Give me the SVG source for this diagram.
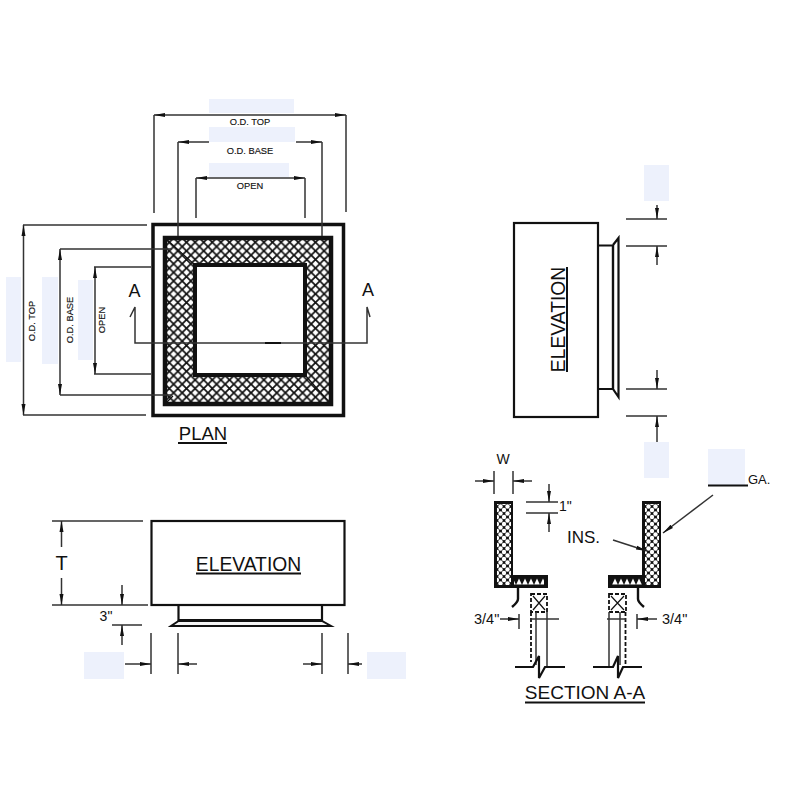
<svg xmlns="http://www.w3.org/2000/svg" width="800" height="800" viewBox="0 0 800 800">
<style>
text{font-family:"Liberation Sans",Arial,sans-serif;fill:#111}
.m{text-anchor:middle}
.d{fill:none;stroke:#333;stroke-width:1.5}
.da{fill:none;stroke:#333;stroke-width:1.5;marker-end:url(#ah)}
.o{fill:none;stroke:#111;stroke-width:2.200}
.b{fill:#edf1fc}
.u{stroke:#111;stroke-width:2}
.s{font-size:9.300px;stroke:#111;stroke-width:.15}
.dash{fill:none;stroke:#111;stroke-width:1.8;stroke-dasharray:4 2}
</style>
<defs>
<marker id="ah" markerWidth="13" markerHeight="8" refX="11" refY="4" orient="auto" markerUnits="userSpaceOnUse"><path d="M0 2L11 4L0 6Z" fill="#111"/></marker>
<pattern id="hatch" width="8.600" height="8.600" patternUnits="userSpaceOnUse" x="165" y="238"><rect width="8.600" height="8.600" fill="#fff"/><path d="M0 0L8.600 8.600M8.600 0L0 8.600" stroke="#111" stroke-width="1.700"/></pattern>
<pattern id="dots" width="7" height="7" patternUnits="userSpaceOnUse" x="497" y="503"><rect width="7" height="7" fill="#111"/><circle cx="3.500" cy="3.500" r="2.200" fill="#fff"/><circle cx="0" cy="0" r="2.200" fill="#fff"/><circle cx="7" cy="0" r="2.200" fill="#fff"/><circle cx="0" cy="7" r="2.200" fill="#fff"/><circle cx="7" cy="7" r="2.200" fill="#fff"/></pattern>
<pattern id="dots2" width="7" height="7" patternUnits="userSpaceOnUse" x="645" y="503"><rect width="7" height="7" fill="#111"/><circle cx="3.500" cy="3.500" r="2.200" fill="#fff"/><circle cx="0" cy="0" r="2.200" fill="#fff"/><circle cx="7" cy="0" r="2.200" fill="#fff"/><circle cx="0" cy="7" r="2.200" fill="#fff"/><circle cx="7" cy="7" r="2.200" fill="#fff"/></pattern>
<pattern id="tri" width="6" height="7" patternUnits="userSpaceOnUse" y="578"><rect width="6" height="7" fill="#111"/><path d="M3 0.500L5.800 6.500H0.200Z" fill="#fff"/></pattern>
</defs>

<g id="masks">
<rect class="b" x="209" y="99" width="85" height="14"/><rect class="b" x="209" y="127" width="86" height="15"/><rect class="b" x="209" y="163" width="80" height="14"/>
<rect class="b" x="6" y="277" width="15" height="85"/><rect class="b" x="42" y="277" width="16" height="87"/><rect class="b" x="78" y="280" width="15" height="80"/>
<rect class="b" x="644" y="165" width="25" height="36"/><rect class="b" x="644" y="442" width="25" height="36"/>
<rect class="b" x="84" y="652" width="40" height="27"/><rect class="b" x="367" y="652" width="39" height="27"/><rect class="b" x="708" y="449" width="37" height="36"/>
</g>

<g id="plan">
<rect x="153" y="224.500" width="190.500" height="191" fill="#fff" stroke="#111" stroke-width="3.500"/>
<path fill-rule="evenodd" d="M165 238H331V404H165ZM195 265V375H305V265Z" fill="url(#hatch)"/>
<rect x="165" y="238" width="166" height="166" fill="none" stroke="#111" stroke-width="4.500"/>
<rect x="195" y="265" width="110" height="110" fill="#fff" stroke="#111" stroke-width="4"/>
<path d="M167 240L195 265M329 402L305 375M167 402L173 396" stroke="#111" stroke-width="1.200"/>
<text class="m" x="203" y="440" font-size="18.500">PLAN</text><path class="u" d="M178 443H227"/>
<text class="m" x="134.500" y="297" font-size="18">A</text><text class="m" x="368" y="296" font-size="18">A</text>
</g>

<g id="elevation-bottom">
<rect x="151.500" y="521" width="193" height="84" fill="#fff" stroke="#111" stroke-width="2.200"/>
<path class="o" d="M178.500 605V620H322V605"/>
<path d="M178.500 621L171 626H331L322 621Z" fill="#f4f4f4" stroke="#111" stroke-width="2"/>
<text class="m" x="248.500" y="571" font-size="19.300">ELEVATION</text><path class="u" d="M196 573.500H301"/>
</g>

<g id="elevation-right">
<rect x="514" y="223" width="84" height="194" fill="#fff" stroke="#111" stroke-width="2.200"/>
<path class="o" d="M598 245.500H613V389H598"/>
<path class="o" d="M613 245L618.500 238V397L613 389V245"/>
<text class="m" transform="translate(565 319.500) rotate(-90)" font-size="19.300">ELEVATION</text><path class="u" d="M567 267V372"/>
</g>

<g id="section-a-a">
<path d="M494 501H513V575H548V588H494Z" fill="#111"/>
<rect x="497" y="504" width="14" height="81" fill="url(#dots)"/>
<rect x="514" y="578" width="30" height="7" fill="url(#tri)"/>
<path d="M642 501H661V588H608V575H642Z" fill="#111"/>
<rect x="645" y="504" width="14" height="81" fill="url(#dots2)"/>
<rect x="612" y="578" width="30" height="7" fill="url(#tri)"/>
<path d="M518 588V599Q518 602 512 607M638 588V599Q638 602 644 607" fill="none" stroke="#111" stroke-width="2.400"/>
<rect class="dash" x="531" y="594" width="16" height="18"/><path d="M533 596L545 610M545 596L533 610" stroke="#111" stroke-width="1.200"/>
<rect class="dash" x="609" y="594" width="17" height="18"/><path d="M611 596L624 610M624 596L611 610" stroke="#111" stroke-width="1.200"/>
<path class="dash" d="M531 612V662M625.500 612V665"/>
<path d="M536 612V665M547 612V667M609 612V667M620 612V665" class="d"/>
<path class="o" d="M515 667H533L539 656V678L545 667H565M593 667H613L618 656V678L623 667H642"/>
<text class="m" x="503" y="464" font-size="14">W</text>
<text x="559" y="511" font-size="14">1"</text>
<text x="567" y="543" font-size="17">INS.</text>
<text x="748" y="484" font-size="13">GA.</text>
<text x="474" y="624" font-size="14.500">3/4"</text>
<text x="662" y="624" font-size="14.500">3/4"</text>
<text class="m" x="585" y="699" font-size="19">SECTION A-A</text><path class="u" d="M525 702.500H645"/>
<path d="M708 485.500H748" stroke="#111" stroke-width="2"/>
</g>

<g id="connectors">
<path class="d" d="M154 213V115M346 212V115M178 142V236M322 142V236M196 218V178M305 218V178"/>
<path class="da" d="M250 115H154"/><path class="da" d="M250 115H346"/>
<path class="da" d="M209 142H178"/><path class="da" d="M296 142H322"/>
<path class="da" d="M250 178H196"/><path class="da" d="M250 178H305"/>
<text class="m s" x="250" y="125">O.D. TOP</text>
<text class="m s" x="250" y="154">O.D. BASE</text>
<text class="m s" x="250" y="189">OPEN</text>
<path class="d" d="M23 225H147M23 415H146M60 249H172M60 395H172M94 267H151M94 374H151"/>
<path class="da" d="M23.500 320V225"/><path class="da" d="M23.500 320V415"/>
<path class="da" d="M60 320V249"/><path class="da" d="M60 320V395"/>
<path class="da" d="M95 320V267"/><path class="da" d="M95 320V374"/>
<text class="m s" transform="translate(35 321) rotate(-90)">O.D. TOP</text>
<text class="m s" transform="translate(72.500 320) rotate(-90)">O.D. BASE</text>
<text class="m s" transform="translate(105 320) rotate(-90)">OPEN</text>
<path class="d" d="M130 317L135 307V343H367V307L370 317"/>
<path d="M265 343H281" stroke="#111" stroke-width="2"/>
<path class="d" d="M52 521H143M52 605H148M112 625H142M151 633V674M178 633V674M322 633V674M348 633V674"/>
<path class="da" d="M61.500 547V521"/><path class="da" d="M61.500 578V605"/>
<text class="m" x="61.500" y="570" font-size="20">T</text>
<path class="da" d="M122 585V605"/><path class="da" d="M122 645V625"/>
<text class="m" x="106" y="621" font-size="14">3"</text>
<path class="da" d="M125 664H151"/><path class="da" d="M197 664H178"/>
<path class="da" d="M303 664H322"/><path class="da" d="M362 664H348"/>
<path class="d" d="M626 219H667M626 246H667M626 389H667M626 416H667"/>
<path class="da" d="M657 205V219"/><path class="da" d="M657 265V246"/>
<path class="da" d="M657 370V389"/><path class="da" d="M657 442V416"/>
<path class="d" d="M494 471V494M513 471V494M526 502H558M526 513H558"/>
<path class="da" d="M475 481H494"/><path class="da" d="M532 481H513"/>
<path class="da" d="M549 484V502"/><path class="da" d="M549 532V513"/>
<path class="da" d="M613 540L647 551"/><path class="da" d="M713 495L663 533"/>
<path class="d" d="M519 614V629M637 614V629"/>
<path class="da" d="M500 619H519"/><path class="d" d="M530 619H559"/>
<path class="da" d="M657 619H637"/><path class="d" d="M607 619H626"/>
</g>
</svg>
